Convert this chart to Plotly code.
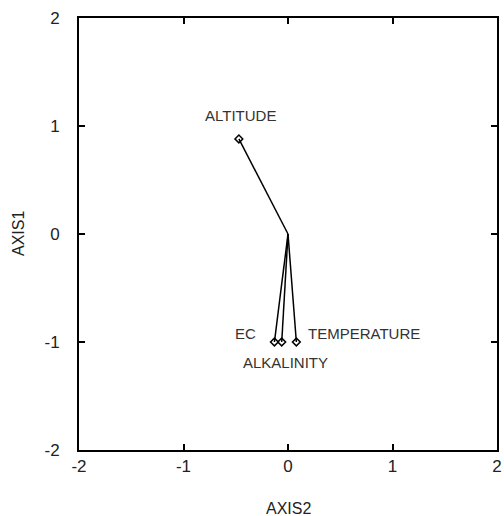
import plotly.graph_objects as go

# Biplot loadings (AXIS2 horizontal, AXIS1 vertical)
variables = ["ALTITUDE", "EC", "ALKALINITY", "TEMPERATURE"]
axis2 = [-0.47, -0.13, -0.06, 0.08]
axis1 = [0.88, -1.0, -1.0, -1.0]

tick_vals = [-2, -1, 0, 1, 2]
tick_text = ["-2", "-1", "0", "1", "2"]

# label placement relative to each arrow tip (pixels)
label_style = {
    "ALTITUDE": dict(xanchor="center", yanchor="middle", xshift=2, yshift=23),
    "EC": dict(xanchor="right", yanchor="middle", xshift=-16, yshift=9),
    "ALKALINITY": dict(xanchor="center", yanchor="middle", xshift=4, yshift=-20),
    "TEMPERATURE": dict(xanchor="left", yanchor="middle", xshift=10, yshift=9),
}

fig = go.Figure()

for name, x, y in zip(variables, axis2, axis1):
    fig.add_trace(go.Scatter(
        x=[0, x], y=[0, y], mode="lines",
        line=dict(color="black", width=1.5),
        hoverinfo="skip", showlegend=False,
    ))

fig.add_trace(go.Scatter(
    x=axis2, y=axis1, mode="markers",
    marker=dict(symbol="diamond-open", size=6, color="black",
                line=dict(color="black", width=1.5)),
    text=variables, showlegend=False,
))

for name, x, y in zip(variables, axis2, axis1):
    fig.add_annotation(x=x, y=y, text=name, showarrow=False,
                       font=dict(size=15, color="#333333"),
                       **label_style[name])

axis_common = dict(
    range=[-2, 2], tickvals=tick_vals, ticktext=tick_text,
    showgrid=False, zeroline=False,
    showline=True, linecolor="black", linewidth=2, mirror="allticks",
    ticks="inside", ticklen=6, tickwidth=1.5, tickcolor="black",
    tickfont=dict(size=17, color="#222222"),
    ticklabeloverflow="allow",
)

fig.update_xaxes(**axis_common, ticklabelstandoff=0)
fig.update_yaxes(**axis_common, ticklabelstandoff=14)

fig.add_annotation(xref="paper", yref="paper", x=0.5, y=0, yshift=-58,
                   yanchor="middle", text="AXIS2", showarrow=False,
                   font=dict(size=16, color="#222222"))
fig.add_annotation(xref="paper", yref="paper", x=0, y=0.5, xshift=-61,
                   xanchor="center", text="AXIS1", showarrow=False, textangle=-90,
                   font=dict(size=16, color="#222222"))

fig.update_layout(
    width=504, height=516,
    margin=dict(l=79, r=2, t=18, b=66),
    plot_bgcolor="white", paper_bgcolor="white",
    font=dict(family="Liberation Sans, Arial, sans-serif"),
)

fig.write_html("out.html")
